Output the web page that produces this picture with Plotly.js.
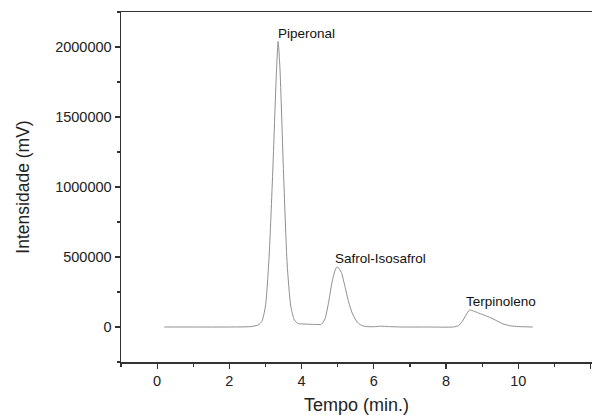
<!DOCTYPE html>
<html>
<head>
<meta charset="utf-8">
<script src="https://cdn.plot.ly/plotly-3.0.1.min.js"></script>
<style>html,body{margin:0;padding:0;background:#fff;}#chart{width:592px;height:415px;}</style>
</head>
<body>
<div id="chart"></div>
<script>
const tempo = [0.2, 1, 2, 2.6, 2.8, 2.9, 3.0, 3.1, 3.2, 3.3, 3.35, 3.4, 3.5, 3.6, 3.7, 3.8, 3.9, 4.0, 4.2, 4.4, 4.55, 4.65, 4.75, 4.85, 4.95, 5.0, 5.1, 5.2, 5.3, 5.4, 5.5, 5.6, 5.7, 5.8, 6.0, 6.2, 6.4, 6.8, 7.5, 8.2, 8.35, 8.45, 8.55, 8.65, 8.75, 8.9, 9.0, 9.2, 9.4, 9.6, 9.8, 10.0, 10.4];
const intensidade = [0, 0, 0, 3000, 15000, 40000, 150000, 500000, 1100000, 1800000, 2040000, 1850000, 1100000, 450000, 150000, 50000, 25000, 22000, 20000, 18000, 20000, 60000, 180000, 330000, 420000, 428000, 390000, 290000, 180000, 100000, 50000, 20000, 8000, 3000, 2000, 6000, 3000, 0, 0, 0, 10000, 40000, 85000, 121000, 115000, 100000, 90000, 70000, 45000, 20000, 8000, 3000, 0];
const picoNomes = ["Piperonal", "Safrol-Isosafrol", "Terpinoleno"];
const picoX = [3.3, 4.88, 8.5];
const picoY = [2100000, 486000, 179000];
const xTicks = [0, 2, 4, 6, 8, 10, 12];
const yTicks = [0, 500000, 1000000, 1500000, 2000000];

const axisColor = '#333';
const fam = 'Liberation Sans, Arial, sans-serif';
const annotations = picoNomes.map((t, i) => ({
  x: picoX[i], y: picoY[i], text: t, showarrow: false,
  xanchor: 'left', yanchor: 'middle',
  font: {family: fam, size: 13.5, color: '#111'}
}));

Plotly.newPlot('chart', [{
  x: tempo, y: intensidade, type: 'scatter', mode: 'lines',
  line: {color: '#8f8f8f', width: 1, shape: 'spline', smoothing: 0.6},
  hoverinfo: 'skip'
}], {
  width: 592, height: 415,
  margin: {l: 121, r: 0, t: 12, b: 53},
  paper_bgcolor: '#fff', plot_bgcolor: '#fff',
  showlegend: false,
  font: {family: fam, size: 14, color: '#222'},
  xaxis: {
    range: [-1, 12.04], tickvals: xTicks, ticktext: xTicks.map(String),
    ticks: 'outside', ticklen: 5, tickwidth: 1.2, tickcolor: axisColor,
    minor: {dtick: 1, tick0: 0, ticks: 'outside', ticklen: 3, tickwidth: 1.2, tickcolor: axisColor, showgrid: false},
    showline: true, linecolor: axisColor, linewidth: 1.5, mirror: true,
    showgrid: false, zeroline: false, automargin: false,
    tickfont: {size: 14.5, color: '#222'},
    title: {text: 'Tempo (min.)', font: {size: 18, color: '#222'}, standoff: 11}
  },
  yaxis: {
    range: [-250000, 2250000], tickvals: yTicks, ticktext: yTicks.map(String),
    ticks: 'outside', ticklen: 5, tickwidth: 1.2, tickcolor: axisColor,
    minor: {dtick: 250000, tick0: 0, ticks: 'outside', ticklen: 3, tickwidth: 1.2, tickcolor: axisColor, showgrid: false},
    showline: true, linecolor: axisColor, linewidth: 1.5, mirror: true,
    showgrid: false, zeroline: false, automargin: false,
    tickfont: {size: 14.5, color: '#222'},
    title: {text: 'Intensidade (mV)', font: {size: 17.5, color: '#222'}, standoff: 21}
  },
  annotations: annotations
}, {displayModeBar: false, staticPlot: true});
</script>
</body>
</html>
